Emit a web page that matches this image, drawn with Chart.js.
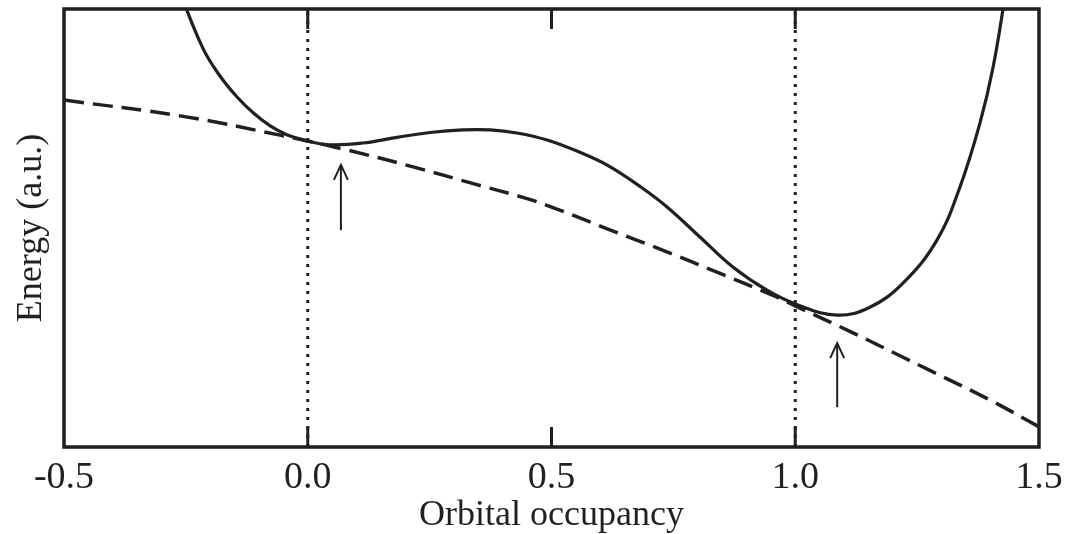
<!DOCTYPE html>
<html>
<head>
<meta charset="utf-8">
<script src="https://cdn.jsdelivr.net/npm/chart.js@4.4.1/dist/chart.umd.min.js"></script>
<style>
html, body { margin: 0; padding: 0; background: #fff; }
#wrap { width: 1069px; height: 534px; }
</style>
</head>
<body>
<div id="wrap"><canvas id="chart"></canvas></div>
<script>
const ink = "#231f20";
const serif = "'Liberation Serif', 'Times New Roman', serif";

// solid curve (energy, a.u.)
const solid_x = [-0.265, -0.215, -0.180, -0.145, -0.112, -0.077, -0.043, -0.002, 0.046, 0.113, 0.183, 0.251, 0.318, 0.374, 0.429, 0.491, 0.558, 0.617, 0.684, 0.737, 0.805, 0.872, 0.942, 1.004, 1.086, 1.153, 1.221, 1.291, 1.338, 1.379, 1.406, 1.432];
const solid_y = [10.45, 9.10, 8.47, 7.99, 7.63, 7.33, 7.13, 6.99, 6.90, 6.94, 7.07, 7.18, 7.24, 7.24, 7.17, 7.01, 6.73, 6.42, 5.93, 5.48, 4.79, 4.11, 3.58, 3.25, 3.01, 3.19, 3.74, 4.73, 5.94, 7.40, 8.68, 10.40];

// dashed curve
const dashed_x = [-0.5, -0.262, -0.057, 0.081, 0.218, 0.334, 0.45, 0.507, 0.617, 0.729, 0.842, 0.952, 1.0, 1.114, 1.219, 1.274, 1.4, 1.5];
const dashed_y = [7.92, 7.56, 7.12, 6.78, 6.39, 6.03, 5.67, 5.45, 4.97, 4.49, 3.98, 3.47, 3.22, 2.63, 2.06, 1.76, 1.07, 0.46];

// dotted markers at integer occupancy
const marker_x = [0.0, 1.0];

// arrows: x, tail, tip
const arrow_x = [0.068, 1.086];
const arrow_tail = [4.95, 0.91];
const arrow_tip = [6.44, 2.37];

const x_ticks = [-0.5, 0.0, 0.5, 1.0, 1.5];
const inner_ticks = [0.0, 0.5, 1.0];

const y_min = 0, y_max = 10;

function pts(xs, ys) {
    return xs.map((x, i) => ({x: x, y: ys[i]}));
}

const datasets = [];

for (const mx of marker_x) {
    datasets.push({
        data: [{x: mx, y: y_min}, {x: mx, y: y_max}],
        borderColor: ink,
        borderWidth: 3,
        borderDash: [3, 6],
        pointRadius: 0,
        showLine: true,
    });
}

datasets.push({
    label: "dashed",
    data: pts(dashed_x, dashed_y),
    borderColor: ink,
    borderWidth: 3.5,
    borderDash: [20, 9],
    pointRadius: 0,
    showLine: true,
    tension: 0.4,
});

datasets.push({
    label: "solid",
    data: pts(solid_x, solid_y),
    borderColor: ink,
    borderWidth: 3.2,
    pointRadius: 0,
    showLine: true,
    tension: 0.4,
});

for (let i = 0; i < arrow_x.length; i++) {
    datasets.push({
        data: [{x: arrow_x[i], y: arrow_tail[i]}, {x: arrow_x[i], y: arrow_tip[i]}],
        borderColor: ink,
        borderWidth: 2,
        pointRadius: 0,
        showLine: true,
    });
}

const frame_plugin = {
    id: "frame",
    afterDatasetsDraw(chart) {
        const c = chart.ctx;
        const a = chart.chartArea;
        const xs = chart.scales.x;
        const ys = chart.scales.y;
        c.save();
        c.strokeStyle = ink;
        c.lineWidth = 3.5;
        c.strokeRect(a.left, a.top, a.right - a.left, a.bottom - a.top);

        // inward ticks, top and bottom
        c.lineWidth = 3;
        for (const t of inner_ticks) {
            const px = xs.getPixelForValue(t);
            c.beginPath();
            c.moveTo(px, a.bottom);
            c.lineTo(px, a.bottom - 20);
            c.moveTo(px, a.top);
            c.lineTo(px, a.top + 20);
            c.stroke();
        }

        // arrow heads
        c.lineWidth = 2;
        for (let i = 0; i < arrow_x.length; i++) {
            const px = xs.getPixelForValue(arrow_x[i]);
            const py = ys.getPixelForValue(arrow_tip[i]);
            c.beginPath();
            c.moveTo(px - 7, py + 15);
            c.lineTo(px, py);
            c.lineTo(px + 7, py + 15);
            c.stroke();
        }
        c.restore();
    }
};

const chart = new Chart(document.getElementById("chart"), {
    type: "scatter",
    data: {datasets: datasets},
    options: {
        responsive: true,
        maintainAspectRatio: false,
        animation: false,
        layout: {
            padding: {top: 9, right: 30, left: 0, bottom: 0},
        },
        plugins: {
            legend: {display: false},
            tooltip: {enabled: false},
        },
        scales: {
            x: {
                type: "linear",
                min: -0.5,
                max: 1.5,
                grid: {display: false},
                border: {display: false},
                afterBuildTicks: (scale) => {
                    scale.ticks = x_ticks.map(v => ({value: v}));
                },
                afterFit: (scale) => {
                    scale.height = 87;
                },
                ticks: {
                    autoSkip: false,
                    maxRotation: 0,
                    padding: 0,
                    color: ink,
                    font: {family: serif, size: 38},
                    callback: (v) => v.toFixed(1),
                },
                title: {
                    display: true,
                    text: "Orbital occupancy",
                    color: ink,
                    font: {family: serif, size: 36},
                    padding: {top: 0, bottom: -3},
                },
            },
            y: {
                type: "linear",
                min: y_min,
                max: y_max,
                grid: {display: false},
                border: {display: false},
                ticks: {display: false},
                afterFit: (scale) => {
                    scale.width = 64;
                },
                title: {
                    display: true,
                    text: "Energy (a.u.)",
                    color: ink,
                    font: {family: serif, size: 36},
                    padding: {top: 10, bottom: 0},
                },
            },
        },
    },
    plugins: [frame_plugin],
});
</script>
</body>
</html>
